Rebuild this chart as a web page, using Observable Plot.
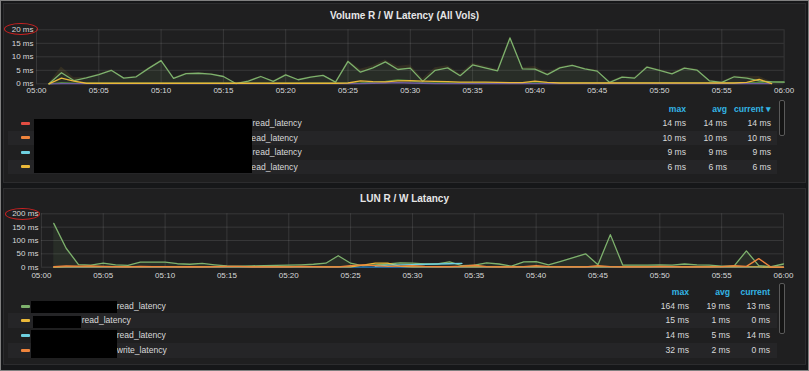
<!DOCTYPE html>
<html><head><meta charset="utf-8">
<script src="https://cdn.jsdelivr.net/npm/d3@7"></script>
<script src="https://cdn.jsdelivr.net/npm/@observablehq/plot@0.6"></script>
<style>
html,body{margin:0;padding:0;background:#161719;}
#page{position:relative;width:809px;height:371px;overflow:hidden;background:#161719;font-family:"Liberation Sans",Arial,Helvetica,sans-serif;}
.abs{position:absolute;}
.panel{position:absolute;left:3px;width:801px;background:#1f1f20;border:1px solid #2c2c2e;}
.title{position:absolute;left:0;width:809px;text-align:center;font-weight:bold;font-size:10px;color:#e6e6e7;line-height:12px;}
.band{position:absolute;left:8px;width:769px;background:#252527;}
.txt{position:absolute;font-size:8.6px;color:#d8d9da;white-space:nowrap;}
.hdr{position:absolute;font-size:8.6px;color:#33b5e5;font-weight:bold;white-space:nowrap;text-align:right;}
.val{position:absolute;font-size:8.6px;color:#d8d9da;white-space:nowrap;text-align:right;width:60px;}
.sw{position:absolute;width:9px;height:3px;border-radius:1px;}
.black{position:absolute;background:#000;}
.scroll{position:absolute;width:4px;background:#141414;border:1px solid #5a5a5a;border-radius:2px;}
.ell{position:absolute;border:1px solid #cc2222;border-radius:50%;box-sizing:border-box;}
.chart{position:absolute;left:0;}
#frame{position:absolute;left:0;top:0;width:809px;height:371px;box-sizing:border-box;border:1px solid #808080;pointer-events:none;}
</style>
</head>
<body>
<div id="page"></div>
<script>
// ---------- shared axis data ----------
const xTickMinutes = [0,5,10,15,20,25,30,35,40,45,50,55,60];
const xTickLabels = ["05:00","05:05","05:10","05:15","05:20","05:25","05:30","05:35","05:40","05:45","05:50","05:55","06:00"];

// ---------- panel 1: Volume R / W Latency (All Vols) ----------
const volTitle = "Volume R / W Latency (All Vols)";
const volYTicks = [0,5,10,15,20];
const volNames = ["volDarkGreen","volPurple","volGreen","volYellow"];
const volColors = ["#508642","#705da0","#7eb26d","#eab839"];
const volGreen = [0,4.1,1.2,2.2,3.4,5.0,2.1,2.6,5.7,8.6,2.0,3.8,3.9,3.6,2.7,0.1,1.0,2.7,0.9,3.3,1.5,2.5,3.1,0.6,8.3,4.3,5.9,8.1,5.3,5.8,0.9,5.0,5.9,3.0,7.0,5.9,4.8,17.0,5.5,5.4,3.4,5.9,6.8,5.5,4.7,0.5,2.5,2.1,6.2,5.0,3.7,5.8,5.1,1.1,0.5,2.6,2.1,1.1,0.7,0.6];
const volYellow = [0,2.1,1.0,0.2,0.2,0.2,0.2,0.2,0.2,0.2,0.2,0.2,0.2,0.2,0.2,0.2,0.2,0.2,0.2,0.2,0.2,0.2,0.2,0.2,0.3,1.1,0.8,0.7,1.1,1.2,1.0,0.9,0.8,0.6,0.6,0.6,0.5,0.4,0.4,1.0,0.5,0.3,0.3,0.3,0.3,0.3,0.3,0.3,0.3,0.3,0.3,0.3,0.3,0.3,0.3,0.3,0.5,1.6,0.1];
const volPurple = [0,0.1,0.1,0.1,0.1,0.1,0.1,0.1,0.1,0.1,0.1,0.1,0.1,0.1,0.1,0.1,0.1,0.1,0.1,0.1,0.1,0.1,0.1,0.1,0.1,0.1,0.2,0.3,0.4,0.3,0.2,0.1,0.1,0.1,0.1,0.1,0.1,0.1,0.1,0.1,0.1,0.1,0.1,0.1,0.1,0.1,0.1,0.1,0.1,0.1,0.1,0.1,0.1,0.1,0.1,0.1,0.1,0.1,0.1];
const volDarkGreen = [0,0.4,0.2,0.2,0.2,0.2,0.2,0.2,0.2,0.2,0.2,0.2,0.2,0.2,0.2,0.2,0.2,0.2,0.2,0.2,0.2,0.2,0.2,0.2,0.2,0.3,0.6,0.9,1.4,1.2,0.4,0.3,0.3,0.3,0.3,0.3,0.3,0.3,0.3,0.3,0.3,0.3,0.3,0.3,0.3,0.3,0.3,0.3,0.3,0.3,0.3,0.3,0.3,0.3,0.3,0.3,0.3,0.5,0.7,0.7];

const volLegendLabels = ["read_latency","read_latency","read_latency","read_latency"];
const volLegendColors = ["#e24d42","#ef843c","#6ed0e0","#eab839"];
const volLegendMax = ["14 ms","10 ms","9 ms","6 ms"];
const volLegendAvg = ["14 ms","10 ms","9 ms","6 ms"];
const volLegendCurrent = ["14 ms","10 ms","9 ms","6 ms"];
const volHeaders = ["max","avg","current \u25BE"];

// ---------- panel 2: LUN R / W Latancy ----------
const lunTitle = "LUN R / W Latancy";
const lunYTicks = [0,50,100,150,200];
const lunNames = ["lunGreen","lunBlue","lunYellow","lunCyan","lunOrange"];
const lunColors = ["#7eb26d","#1f78c1","#eab839","#6ed0e0","#ef843c"];
const lunGreen = [164,71,10,8,15,9,7,19,19,19,13,11,14,9,5,4,5,6,7,8,9,11,15,43,15,5,9,12,16,15,12,12,20,6,8,16,12,4,20,21,9,22,36,50,9,122,8,8,8,9,8,12,9,8,4,4,61,6,2,12];
const lunOrange = [2,5,4,5,3,2,1,3,2,2,1,2,1,2,3,3,1,1,1,1,3,2,1,1,6,9,6,3,4,6,3,2,2,4,8,2,1,1,2,6,2,1,1,1,6,2,1,1,1,3,2,1,1,1,2,6,3,32,0,0];
const lunYellow = [0,1,1,1,1,1,1,1,1,1,1,1,1,1,1,1,1,1,1,1,1,1,1,1,1,8,15,15,3,1,1,1,1,1,1,1,1,1,1,1,1,1,1,1,1,1,1,1,1,1,1,1,1,1,1,1,1,1,0,0];
const lunCyanStart = 27;
const lunCyan = [4,8,9,10,11,12,13,14];
const lunBlue = [0,0,0,0,0,0,0,0,0,0,0,0,0,0,0,0,0,0,0,0,0,0,0,0,0,0,0,0,0,0,0,0,0,0,0,0,0,0,0,0,0,0,0,0,0,0,0,0,0,0,0,0,0,0,0,0,0,0,0,0];

const lunLegendLabels = ["read_latency","read_latency","read_latency","write_latency"];
const lunLegendColors = ["#7eb26d","#eab839","#6ed0e0","#ef843c"];
const lunLegendMax = ["164 ms","15 ms","14 ms","32 ms"];
const lunLegendAvg = ["19 ms","1 ms","5 ms","2 ms"];
const lunLegendCurrent = ["13 ms","0 ms","14 ms","0 ms"];
const lunHeaders = ["max","avg","current"];

// ---------- helpers ----------
const page = document.getElementById("page");
function el(cls, css, text){
  const d = document.createElement("div");
  d.className = cls;
  Object.assign(d.style, css);
  if (text !== undefined) d.textContent = text;
  page.appendChild(d);
  return d;
}
function rows(name, values, start){
  return values.map((v,i)=>({s:name, t:(start||1)+i, v}));
}
function xFmt(m){ return xTickLabels[xTickMinutes.indexOf(m)]; }

function makeChart(o){
  const svg = Plot.plot({
    width: 809, height: o.height,
    marginLeft: o.ml, marginRight: o.mr, marginTop: o.mt, marginBottom: o.mb,
    style: {background:"transparent", color:"#d8d9da", fontSize:"8px", fontFamily:"'Liberation Sans',Arial,sans-serif"},
    x: {domain:[0,60], label:null},
    y: {domain:[0, o.yTicks[o.yTicks.length-1]], label:null},
    color: {domain: o.names, range: o.colors},
    marks: [
      Plot.gridX(xTickMinutes, {stroke:"#ffffff", strokeOpacity:0.11}),
      Plot.gridY(o.yTicks, {stroke:"#ffffff", strokeOpacity:0.11}),
      Plot.areaY(o.fillData, {x:"t", y:"v", fill:"s", fillOpacity:0.1}),
      Plot.lineY(o.data, {x:"t", y:"v", z:"s", stroke:"s", strokeWidth:1.3}),
      Plot.axisX(xTickMinutes, {tickSize:0, tickPadding:o.xpad, tickFormat:xFmt, fill:"#d8d9da", label:null}),
      Plot.axisY(o.yTicks, {tickSize:0, tickPadding:3, tickFormat:d=>d+" ms", fill:"#d8d9da", label:null})
    ]
  });
  svg.classList.add("chart");
  svg.style.position = "absolute";
  svg.style.left = "0px";
  svg.style.top = o.top + "px";
  page.appendChild(svg);
}

function legend(o){
  for (let i=0;i<4;i++){
    const top = o.rowTop + i*o.rowH;
    if (i%2===1) el("band", {top: top+"px", height: o.rowH+"px"});
  }
  for (let i=0;i<4;i++){
    const top = o.rowTop + i*o.rowH;
    const lh = o.rowH + "px";
    el("sw", {left:"21px", top:(top + o.rowH/2 - 1.5)+"px", background:o.colors[i]});
    el("txt", {left:o.textX[i]+"px", top:top+"px", lineHeight:lh}, o.labels[i]);
    el("val", {left:(o.colX[0]-60)+"px", top:top+"px", lineHeight:lh}, o.max[i]);
    el("val", {left:(o.colX[1]-60)+"px", top:top+"px", lineHeight:lh}, o.avg[i]);
    el("val", {left:(o.colX[2]-60)+"px", top:top+"px", lineHeight:lh}, o.cur[i]);
  }
  o.headers.forEach((h,j)=>{
    el("hdr", {left:(o.colX[j]-60)+"px", width:"60px", top:(o.hdrY-7)+"px", lineHeight:"14px"}, h);
  });
  o.boxes.forEach(b=>el("black", {left:b[0]+"px", top:b[1]+"px", width:(b[2]-b[0])+"px", height:(b[3]-b[1])+"px"}));
  el("scroll", {left:"779px", top:o.scroll[0]+"px", height:(o.scroll[1]-o.scroll[0])+"px"});
}

// ---------- panels ----------
el("panel", {top:"3px", height:"178px"});
el("panel", {top:"188px", height:"175px"});

el("title", {top:"10px"}, volTitle);
el("title", {top:"193px"}, lunTitle);

makeChart({
  top: 22, height: 80, ml: 36, mr: 25.4, mt: 7.3, mb: 18.7, xpad: 4,
  yTicks: volYTicks, names: volNames, colors: volColors,
  fillData: [...rows("volGreen", volGreen), ...rows("volYellow", volYellow)],
  data: [...rows("volDarkGreen", volDarkGreen), ...rows("volPurple", volPurple), ...rows("volGreen", volGreen), ...rows("volYellow", volYellow)]
});
makeChart({
  top: 205, height: 80, ml: 40.9, mr: 26, mt: 8.3, mb: 18.3, xpad: 5,
  yTicks: lunYTicks, names: lunNames, colors: lunColors,
  fillData: [...rows("lunGreen", lunGreen)],
  data: [...rows("lunGreen", lunGreen), ...rows("lunBlue", lunBlue), ...rows("lunYellow", lunYellow), ...rows("lunCyan", lunCyan, lunCyanStart), ...rows("lunOrange", lunOrange)]
});

legend({
  rowTop: 116, rowH: 14.5, hdrY: 109,
  labels: volLegendLabels, colors: volLegendColors,
  max: volLegendMax, avg: volLegendAvg, cur: volLegendCurrent, headers: volHeaders,
  colX: [686, 727, 771], textX: [252.5, 248.5, 252.5, 248.5],
  boxes: [[34,119,252.3,173.3]],
  scroll: [100,134]
});
legend({
  rowTop: 298.6, rowH: 14.8, hdrY: 292.3,
  labels: lunLegendLabels, colors: lunLegendColors,
  max: lunLegendMax, avg: lunLegendAvg, cur: lunLegendCurrent, headers: lunHeaders,
  colX: [689, 730, 770], textX: [116.7, 81.7, 116.7, 116.7],
  boxes: [[31,300.7,116.7,313.3],[33.3,315.7,81,327.7],[31,330,116.7,358.3]],
  scroll: [283,332]
});

// annotation ellipses around the top y labels
el("ell", {left:"4px", top:"23px", width:"34px", height:"12px"});
el("ell", {left:"5px", top:"207.5px", width:"35px", height:"12px"});

const frame = document.createElement("div");
frame.id = "frame";
page.appendChild(frame);
</script>
</body></html>
